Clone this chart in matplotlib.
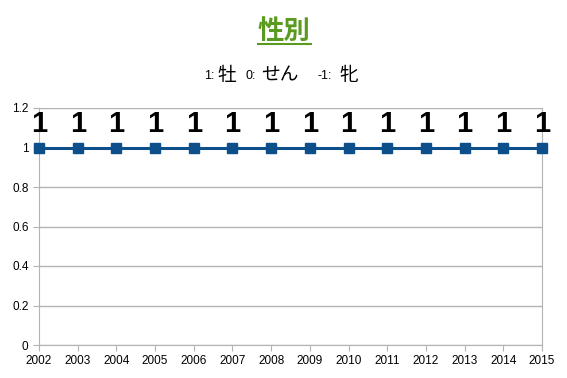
import matplotlib.pyplot as plt
from matplotlib.lines import Line2D
from matplotlib.ticker import FuncFormatter

plt.rcParams['font.family'] = ['Liberation Sans', 'Noto Sans CJK JP']

years = list(range(2002, 2016))
values = [1, 1, 1, 1, 1, 1, 1, 1, 1, 1, 1, 1, 1, 1]

fig = plt.figure(figsize=(5.67, 3.78), dpi=100)
ax = fig.add_axes([39/567, 1 - 345/378, 503/567, 237/378])

ax.plot(years, values, color='#0d4f8b', linewidth=2.2, marker='s',
        markersize=7, zorder=3, clip_on=False)
for x, v in zip(years, values):
    ax.text(x, v + 0.08, str(v), ha='center', va='baseline', fontsize=21,
            fontweight='bold', color='black', zorder=4,
            family=['Liberation Sans Narrow', 'Liberation Sans'])

ax.set_xlim(2002, 2015)
ax.set_ylim(0, 1.2)
ax.set_xticks(years)
ax.set_yticks([0, 0.2, 0.4, 0.6, 0.8, 1.0, 1.2])
ax.yaxis.set_major_formatter(FuncFormatter(lambda v, p: f"{v:g}"))
ax.grid(axis='y', color='#b3b3b3', linewidth=1)
ax.set_axisbelow(True)
for s in ['left', 'right', 'bottom']:
    ax.spines[s].set_color('#b3b3b3')
ax.spines['top'].set_visible(False)
ax.tick_params(colors='#b3b3b3', labelcolor='black', labelsize=8.5, length=4)

# title
fig.text(284/567, 1 - 31/378, '性別', ha='center', va='center', fontsize=19,
         fontweight='bold', color='#5a9a1e', family=['Noto Sans CJK JP'])
fig.add_artist(Line2D([258/567, 311/567], [1 - 44/378, 1 - 44/378],
                      color='#5a9a1e', linewidth=1.5))

# subtitle
y_sub = 1 - 76/378
parts = [(204, '1:', 9), (217, '牡', 13.5), (246, '0:', 9), (261, 'せん', 13.5),
         (318, '-1:', 9), (339, '牝', 13.5)]
for x, t, fs in parts:
    fig.text(x/567, y_sub, t, ha='left', va='center', fontsize=fs,
             color='black', family=['Liberation Sans', 'Noto Sans CJK JP'])

fig.savefig('out.png', dpi=100)
